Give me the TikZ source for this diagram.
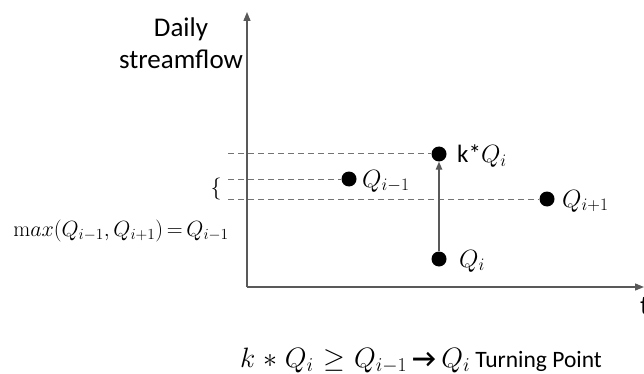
\RequirePackage{fix-cm}
\documentclass[tikz,border=0pt]{standalone}
\usepackage[no-math]{fontspec}
\setmainfont{Carlito}
\usetikzlibrary{arrows.meta}
\begin{document}
\begin{tikzpicture}[x=1pt,y=-1pt,
  axis/.style={draw=black!65, line width=1.3pt, -{Triangle[length=9pt,width=7pt]}},
  guide/.style={draw=black!55, dash pattern=on 6pt off 4pt, line width=1pt},
  rise/.style={draw=black!65, line width=1.3pt, -{Triangle[length=8pt,width=6.5pt]}},
  dot/.style={circle, fill=black, inner sep=0pt, minimum size=15pt},
  lbl/.style={font=\fontsize{25}{28}\selectfont, anchor=base west, inner sep=0pt},
  big/.style={font=\fontsize{27}{32}\selectfont, anchor=base, inner sep=0pt},
  note/.style={font=\fontsize{23.5}{28}\selectfont, anchor=base, inner sep=0pt},
  ]
\useasboundingbox (0,0) rectangle (644,374);
% axes
\coordinate (O) at (247,287);
\coordinate (ytop) at (247,12);
\coordinate (xend) at (644,287);
\draw[axis] (O) -- (ytop);
\draw[axis] (O) -- (xend);
\node[big, anchor=base west] (t) at (640,314) {t};
\node[big] (ylab1) at (181,37) {Daily};
\node[big] (ylab2) at (181,69) {streamflow};
% points
\node[dot] (kq) at (439,154) {};
\node[dot] (qm) at (349,179) {};
\node[dot] (qp) at (547,199) {};
\node[dot] (qi) at (439,259) {};
% guide starts
\coordinate (g1) at (228,154);
\coordinate (g2) at (228,179);
\coordinate (g3) at (228,199);
\draw[guide] (g1) -- (kq);
\draw[guide] (g2) -- (qm);
\draw[guide] (g3) -- (qp);
% rise arrow
\draw[rise] (qi) -- (kq);
% labels
\node[lbl] (lkq) at (457,163) {k*$Q_i$};
\node[lbl] (lqm) at (362,187) {$Q_{i-1}$};
\node[lbl] (lqp) at (562,207) {$Q_{i+1}$};
\node[lbl] (lqi) at (459,267) {$Q_i$};
% brace and max
\node[font=\fontsize{22}{26}\selectfont, inner sep=0pt] (br) at (216,189) {$\{$};
\node[font=\fontsize{22}{26}\selectfont, anchor=base, inner sep=0pt] (mx) at (121,236)
  {$\mathrm{m}ax(Q_{i-1},Q_{i+1})\mskip3mu{=}\mskip3mu Q_{i-1}$};
% bottom rule
\node[note] (rule) at (421,367) {{\fontsize{28}{30}\selectfont$k\mskip5mu{*}\mskip5mu Q_i\mskip6mu{\geq}\mskip6mu Q_{i-1}$} {\fontsize{26}{30}\selectfont\textbf{→}} {\fontsize{28}{30}\selectfont$Q_i$} Turning Point};
\end{tikzpicture}
\end{document}
